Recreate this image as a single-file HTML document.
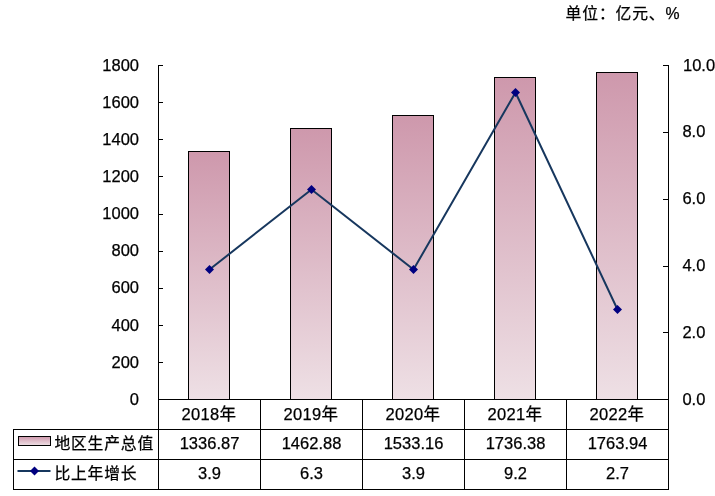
<!DOCTYPE html>
<html lang="zh-CN"><head><meta charset="utf-8"><title>地区生产总值</title>
<style>
html,body{margin:0;padding:0;background:#fff;}
body{width:715px;height:496px;overflow:hidden;}
svg{display:block;}
text{font-family:"Liberation Sans", "Noto Sans CJK SC", sans-serif;font-size:16.5px;fill:#000;stroke:#000;stroke-width:0.25px;}
.ln{shape-rendering:crispEdges;}
</style></head><body>
<svg width="715" height="496" viewBox="0 0 715 496">
<defs>
<linearGradient id="g" x1="0" y1="0" x2="0" y2="1"><stop offset="0" stop-color="#CE98AC"/><stop offset="1" stop-color="#EEE0E5"/></linearGradient>
</defs>
<rect width="715" height="496" fill="#fff"/>

<text x="565.6" y="19.3" style="font-size:15.8px;letter-spacing:0.85px">单位：亿元、%</text>
<rect class="ln" x="188.5" y="151.5" width="41" height="248" fill="url(#g)" stroke="#000" stroke-width="1"/>
<rect class="ln" x="290.5" y="128.5" width="41" height="271" fill="url(#g)" stroke="#000" stroke-width="1"/>
<rect class="ln" x="392.5" y="115.5" width="41" height="284" fill="url(#g)" stroke="#000" stroke-width="1"/>
<rect class="ln" x="494.5" y="77.5" width="41" height="322" fill="url(#g)" stroke="#000" stroke-width="1"/>
<rect class="ln" x="596.5" y="72.5" width="41" height="327" fill="url(#g)" stroke="#000" stroke-width="1"/>
<rect class="ln" x="158" y="65" width="1" height="425" fill="#000"/>
<rect class="ln" x="668" y="65" width="1" height="425" fill="#000"/>
<rect class="ln" x="158" y="399" width="511" height="1" fill="#000"/>
<rect class="ln" x="13" y="429" width="656" height="1" fill="#000"/>
<rect class="ln" x="13" y="459" width="656" height="1" fill="#000"/>
<rect class="ln" x="13" y="489" width="656" height="1" fill="#000"/>
<rect class="ln" x="13" y="429" width="1" height="61" fill="#000"/>
<rect class="ln" x="260" y="399" width="1" height="91" fill="#000"/>
<rect class="ln" x="362" y="399" width="1" height="91" fill="#000"/>
<rect class="ln" x="464" y="399" width="1" height="91" fill="#000"/>
<rect class="ln" x="566" y="399" width="1" height="91" fill="#000"/>
<rect class="ln" x="158" y="65" width="5" height="1" fill="#000"/>
<text x="139" y="71.3" text-anchor="end">1800</text>
<rect class="ln" x="158" y="102" width="5" height="1" fill="#000"/>
<text x="139" y="108.3" text-anchor="end">1600</text>
<rect class="ln" x="158" y="139" width="5" height="1" fill="#000"/>
<text x="139" y="145.3" text-anchor="end">1400</text>
<rect class="ln" x="158" y="176" width="5" height="1" fill="#000"/>
<text x="139" y="182.3" text-anchor="end">1200</text>
<rect class="ln" x="158" y="214" width="5" height="1" fill="#000"/>
<text x="139" y="219.3" text-anchor="end">1000</text>
<rect class="ln" x="158" y="251" width="5" height="1" fill="#000"/>
<text x="139" y="256.3" text-anchor="end">800</text>
<rect class="ln" x="158" y="288" width="5" height="1" fill="#000"/>
<text x="139" y="293.3" text-anchor="end">600</text>
<rect class="ln" x="158" y="325" width="5" height="1" fill="#000"/>
<text x="139" y="331.3" text-anchor="end">400</text>
<rect class="ln" x="158" y="362" width="5" height="1" fill="#000"/>
<text x="139" y="368.3" text-anchor="end">200</text>
<rect class="ln" x="158" y="399" width="5" height="1" fill="#000"/>
<text x="139" y="405.3" text-anchor="end">0</text>
<rect class="ln" x="663" y="65" width="5" height="1" fill="#000"/>
<text x="683.0" y="71.3">10.0</text>
<rect class="ln" x="663" y="132" width="5" height="1" fill="#000"/>
<text x="682.4" y="137.3">8.0</text>
<rect class="ln" x="663" y="199" width="5" height="1" fill="#000"/>
<text x="682.4" y="204.3">6.0</text>
<rect class="ln" x="663" y="266" width="5" height="1" fill="#000"/>
<text x="682.4" y="271.3">4.0</text>
<rect class="ln" x="663" y="332" width="5" height="1" fill="#000"/>
<text x="682.4" y="338.3">2.0</text>
<rect class="ln" x="663" y="399" width="5" height="1" fill="#000"/>
<text x="682.4" y="405.3">0.0</text>
<polyline fill="none" stroke="#17375E" stroke-width="2" stroke-linejoin="round" points="209.5,269.5 311.5,189.5 413.5,269.5 515.5,92.5 617.5,309.5"/>
<path d="M205.0,269.5 L209.5,265.0 L214.0,269.5 L209.5,274.0 Z" fill="#000080"/>
<path d="M307.0,189.5 L311.5,185.0 L316.0,189.5 L311.5,194.0 Z" fill="#000080"/>
<path d="M409.0,269.5 L413.5,265.0 L418.0,269.5 L413.5,274.0 Z" fill="#000080"/>
<path d="M511.0,92.5 L515.5,88.0 L520.0,92.5 L515.5,97.0 Z" fill="#000080"/>
<path d="M613.0,309.5 L617.5,305.0 L622.0,309.5 L617.5,314.0 Z" fill="#000080"/>
<text x="236.1" y="419.8" text-anchor="end"><tspan style="letter-spacing:0.35px">2018</tspan>年</text>
<text x="209.5" y="449.3" text-anchor="middle">1336.87</text>
<text x="209.5" y="479" text-anchor="middle">3.9</text>
<text x="338.1" y="419.8" text-anchor="end"><tspan style="letter-spacing:0.35px">2019</tspan>年</text>
<text x="311.5" y="449.3" text-anchor="middle">1462.88</text>
<text x="311.5" y="479" text-anchor="middle">6.3</text>
<text x="440.1" y="419.8" text-anchor="end"><tspan style="letter-spacing:0.35px">2020</tspan>年</text>
<text x="413.5" y="449.3" text-anchor="middle">1533.16</text>
<text x="413.5" y="479" text-anchor="middle">3.9</text>
<text x="542.1" y="419.8" text-anchor="end"><tspan style="letter-spacing:0.35px">2021</tspan>年</text>
<text x="515.5" y="449.3" text-anchor="middle">1736.38</text>
<text x="515.5" y="479" text-anchor="middle">9.2</text>
<text x="644.1" y="419.8" text-anchor="end"><tspan style="letter-spacing:0.35px">2022</tspan>年</text>
<text x="617.5" y="449.3" text-anchor="middle">1763.94</text>
<text x="617.5" y="479" text-anchor="middle">2.7</text>
<rect class="ln" x="18.5" y="436.5" width="32" height="9" fill="url(#g)" stroke="#000"/>
<rect x="17.5" y="470" width="33" height="2" fill="#17375E"/>
<path d="M30.0,471 L34.5,466.5 L39.0,471 L34.5,475.5 Z" fill="#000080"/>
<text x="54.4" y="449.3" style="font-size:15.8px;letter-spacing:0.8px">地区生产总值</text>
<text x="54.4" y="478.8" style="font-size:15.8px;letter-spacing:0.8px">比上年增长</text>
</svg></body></html>
